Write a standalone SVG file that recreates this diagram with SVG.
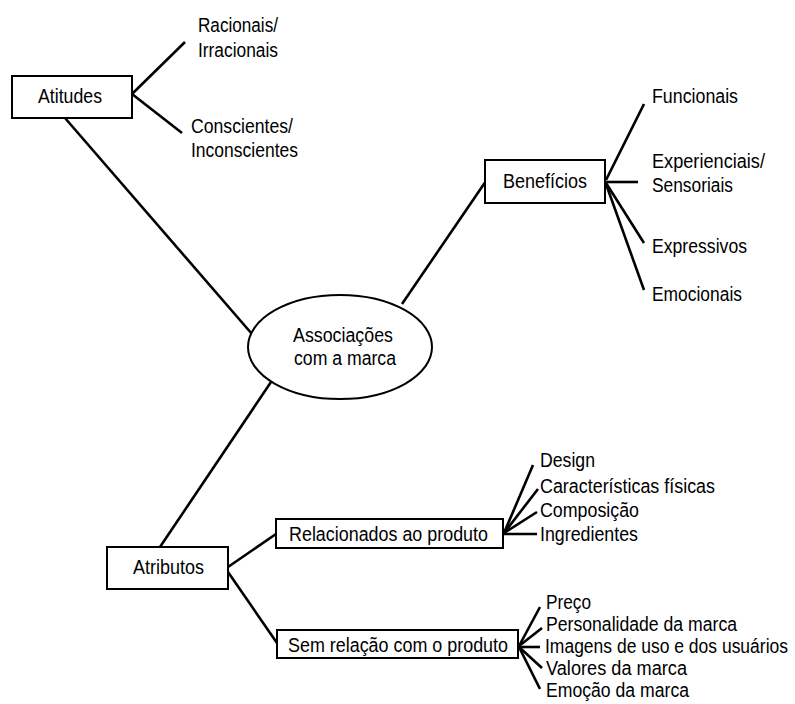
<svg xmlns="http://www.w3.org/2000/svg" width="795" height="704" viewBox="0 0 795 704">
<style>
.box{fill:#fff;stroke:#000;stroke-width:2}
.ln{stroke:#000;stroke-width:2.6;fill:none;stroke-linecap:butt}
text{font-family:"Liberation Sans",Arial,sans-serif;font-size:20px;fill:#000}
</style>
<rect width="795" height="704" fill="#fff"/>
<g id="connectors">
<line class="ln" x1="132" y1="94" x2="185" y2="42"/>
<line class="ln" x1="132" y1="94" x2="182" y2="133"/>
<line class="ln" x1="65" y1="118" x2="252" y2="334"/>
<line class="ln" x1="402" y1="304" x2="486" y2="181"/>
<line class="ln" x1="606" y1="180" x2="644" y2="104"/>
<line class="ln" x1="606" y1="182" x2="638" y2="182"/>
<line class="ln" x1="606" y1="183" x2="644" y2="243"/>
<line class="ln" x1="606" y1="184" x2="644" y2="290"/>
<line class="ln" x1="160" y1="547" x2="271" y2="382"/>
<line class="ln" x1="228" y1="567" x2="276" y2="534"/>
<line class="ln" x1="228" y1="572" x2="277" y2="643"/>
<line class="ln" x1="504" y1="533" x2="533" y2="465"/>
<line class="ln" x1="504" y1="533" x2="538" y2="489"/>
<line class="ln" x1="504" y1="533" x2="537" y2="512"/>
<line class="ln" x1="504" y1="534" x2="537" y2="534"/>
<line class="ln" x1="519" y1="646" x2="540" y2="607"/>
<line class="ln" x1="519" y1="646" x2="542" y2="628"/>
<line class="ln" x1="519" y1="647" x2="540" y2="647"/>
<line class="ln" x1="519" y1="647" x2="542" y2="668"/>
<line class="ln" x1="519" y1="647" x2="540" y2="689"/>
</g>
<g id="atitudes">
<rect class="box" x="12" y="76" width="120" height="42"/>
<text x="38" y="103" textLength="64" lengthAdjust="spacingAndGlyphs">Atitudes</text>
</g>
<g id="racionais">
<text x="198" y="32" textLength="80" lengthAdjust="spacingAndGlyphs">Racionais/</text>
<text x="198" y="57" textLength="80" lengthAdjust="spacingAndGlyphs">Irracionais</text>
</g>
<g id="conscientes">
<text x="191" y="133" textLength="102" lengthAdjust="spacingAndGlyphs">Conscientes/</text>
<text x="191" y="157" textLength="107" lengthAdjust="spacingAndGlyphs">Inconscientes</text>
</g>
<g id="associacoes">
<ellipse class="box" cx="340" cy="347" rx="92" ry="52"/>
<text x="293" y="342" textLength="100" lengthAdjust="spacingAndGlyphs">Associações</text>
<text x="294" y="365" textLength="102" lengthAdjust="spacingAndGlyphs">com a marca</text>
</g>
<g id="beneficios">
<rect class="box" x="485" y="160" width="120" height="43"/>
<text x="503" y="188" textLength="84" lengthAdjust="spacingAndGlyphs">Benefícios</text>
</g>
<g id="funcionais"><text x="652" y="103" textLength="86" lengthAdjust="spacingAndGlyphs">Funcionais</text></g>
<g id="experienciais">
<text x="652" y="168" textLength="113" lengthAdjust="spacingAndGlyphs">Experienciais/</text>
<text x="652" y="192" textLength="81" lengthAdjust="spacingAndGlyphs">Sensoriais</text>
</g>
<g id="expressivos"><text x="652" y="253" textLength="95" lengthAdjust="spacingAndGlyphs">Expressivos</text></g>
<g id="emocionais"><text x="652" y="301" textLength="90" lengthAdjust="spacingAndGlyphs">Emocionais</text></g>
<g id="atributos">
<rect class="box" x="107" y="547" width="121" height="42"/>
<text x="133" y="574" textLength="71" lengthAdjust="spacingAndGlyphs">Atributos</text>
</g>
<g id="relacionados">
<rect class="box" x="276" y="519" width="227" height="29"/>
<text x="289" y="541" textLength="199" lengthAdjust="spacingAndGlyphs">Relacionados ao produto</text>
</g>
<g id="semrelacao">
<rect class="box" x="277" y="630" width="241" height="28"/>
<text x="288" y="652" textLength="220" lengthAdjust="spacingAndGlyphs">Sem relação com o produto</text>
</g>
<g id="design"><text x="540" y="467" textLength="55" lengthAdjust="spacingAndGlyphs">Design</text></g>
<g id="caracteristicas"><text x="540" y="493" textLength="175" lengthAdjust="spacingAndGlyphs">Características físicas</text></g>
<g id="composicao"><text x="540" y="517" textLength="99" lengthAdjust="spacingAndGlyphs">Composição</text></g>
<g id="ingredientes"><text x="540" y="541" textLength="98" lengthAdjust="spacingAndGlyphs">Ingredientes</text></g>
<g id="preco"><text x="546" y="609" textLength="45" lengthAdjust="spacingAndGlyphs">Preço</text></g>
<g id="personalidade"><text x="546" y="631" textLength="191" lengthAdjust="spacingAndGlyphs">Personalidade da marca</text></g>
<g id="imagens"><text x="545" y="653" textLength="243" lengthAdjust="spacingAndGlyphs">Imagens de uso e dos usuários</text></g>
<g id="valores"><text x="546" y="675" textLength="141" lengthAdjust="spacingAndGlyphs">Valores da marca</text></g>
<g id="emocao"><text x="546" y="697" textLength="143" lengthAdjust="spacingAndGlyphs">Emoção da marca</text></g>
</svg>
